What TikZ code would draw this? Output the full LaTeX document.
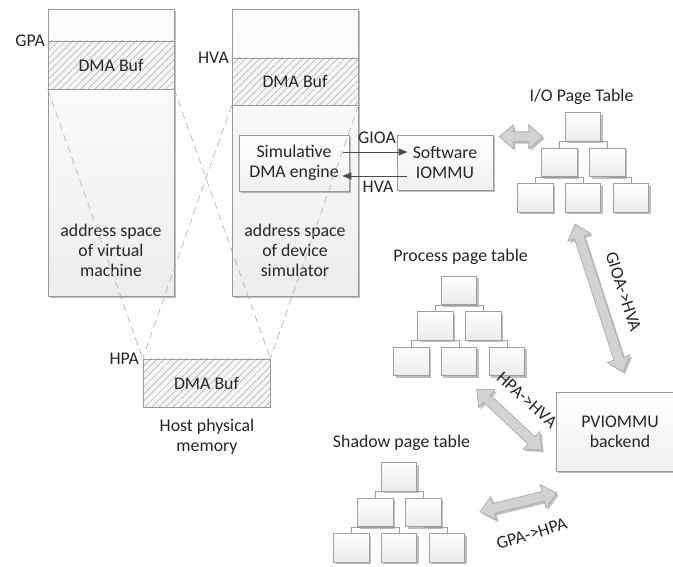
\documentclass[tikz,border=0pt]{standalone}
\usepackage{fontspec}
\setmainfont{Carlito}
\usetikzlibrary{patterns.meta,shadows,calc,arrows.meta}

\tikzset{
  txt/.style={font=\fontsize{17.8}{20}\selectfont, text=black!85, align=center, inner sep=1pt},
  shad/.style={drop shadow={shadow xshift=2pt,shadow yshift=-2pt,opacity=0.25,fill=black}},
  colbox/.style={draw=gray!80, line width=0.8pt, top color=white, bottom color=gray!14, shad},
  hatchbox/.style={draw=gray!80, line width=0.8pt, preaction={fill=gray!6},
    pattern={Lines[angle=45,distance=5pt,line width=0.5pt]}, pattern color=gray!70,
    txt, inner sep=0pt},
  box/.style={draw=gray!80, line width=0.8pt, top color=white, bottom color=gray!12, shad, txt},
  tbox/.style={draw=gray!75, line width=0.7pt, top color=white, bottom color=gray!16, shad,
    minimum width=35.5pt, minimum height=28.5pt, inner sep=0pt},
  tline/.style={draw=gray!75, line width=0.7pt},
  thinarr/.style={draw=black!70, line width=0.8pt, -{Triangle[length=9pt,width=7pt]}},
  dashln/.style={draw=gray!65, line width=0.6pt, dash pattern=on 7pt off 5pt},
  fatarr/.style={draw=gray!65, line width=0.7pt, fill=gray!35, line join=miter, shad}
}

\newcommand\fatarrow[2]{%
  \path let \p1=($(#2)-(#1)$) in \pgfextra{%
    \pgfmathsetmacro\fatlen{veclen(\x1,\y1)}%
    \pgfmathsetmacro\fatang{atan2(\y1,\x1)}%
    \global\let\fatlen\fatlen \global\let\fatang\fatang};
  \begin{scope}[shift={(#1)},rotate=\fatang]
    \draw[fatarr] (0,0) -- (14,12) -- (14,5) -- ({\fatlen-14},5) -- ({\fatlen-14},12)
      -- (\fatlen,0) -- ({\fatlen-14},-12) -- ({\fatlen-14},-5) -- (14,-5) -- (14,-12) -- cycle;
  \end{scope}}

\newcommand\ptree[3]{%
  \node[tbox] (#1t) at (#2,#3) {};
  \node[tbox] (#1l) at ({#2-23.5},{#3-35.5}) {};
  \node[tbox] (#1r) at ({#2+24.5},{#3-35.5}) {};
  \node[tbox] (#1a) at ({#2-47.5},{#3-71}) {};
  \node[tbox] (#1b) at (#2,{#3-71}) {};
  \node[tbox] (#1c) at ({#2+48},{#3-71}) {};
  \draw[tline] (#1l.north) |- (#1t.south) -| (#1r.north);
  \draw[tline] (#1a.north) |- (#1l.south) -| (#1b.north);
  \draw[tline] (#1r.south) -| (#1c.north);
}

\begin{document}
\begin{tikzpicture}[x=1pt,y=1pt]
\useasboundingbox (0,0) rectangle (673,566);
\clip (0,0) rectangle (673,566);
\fill[white] (0,0) rectangle (673,566);

% address space columns
\node[colbox, minimum width=126pt, minimum height=287pt, inner sep=0pt] (vm) at (111,413.5) {};
\node[colbox, minimum width=126pt, minimum height=287pt, inner sep=0pt] (ds) at (295,413.5) {};
\node[hatchbox, minimum width=126pt, minimum height=48pt] (vmbuf) at (111,501) {DMA Buf};
\node[hatchbox, minimum width=126pt, minimum height=47pt] (dsbuf) at (295,484.5) {DMA Buf};
\node[txt] (vmtxt) at (111,316) {address space\\of virtual\\machine};
\node[txt] (dstxt) at (295,316) {address space\\of device\\simulator};
\node[txt, anchor=east] (gpa) at (46,525) {GPA};
\node[txt, anchor=east] (hva) at (230,508) {HVA};

% simulative DMA engine and software IOMMU
\node[box, minimum width=110pt, minimum height=56pt, inner sep=0pt] (sim) at (294,403) {Simulative\\DMA engine};
\node[box, minimum width=96pt, minimum height=55pt, inner sep=0pt] (iommu) at (445,403.5) {Software\\IOMMU};
\coordinate (g1) at ($(sim.east)+(-6,11)$);
\coordinate (g2) at ($(iommu.west)+(11,10.5)$);
\coordinate (h1) at ($(iommu.west)+(10,-13.5)$);
\coordinate (h2) at ($(sim.east)+(-7,-13)$);
\draw[thinarr] (g1) -- (g2);
\draw[thinarr] (h1) -- (h2);
\node[txt] (gioalbl) at (377,428) {GIOA};
\node[txt] (hvalbl) at (378,379) {HVA};

% host physical memory
\node[hatchbox, minimum width=127pt, minimum height=48pt] (hbuf) at (206.5,183) {DMA Buf};
\node[txt, anchor=east] (hpa) at (140,207) {HPA};
\node[txt] (hostlbl) at (207,129) {Host physical\\memory};

% mapping lines
\draw[dashln] (vmbuf.south west) -- (hbuf.north west);
\draw[dashln] (vmbuf.south east) -- (hbuf.north east);
\draw[dashln] (dsbuf.south west) -- (hbuf.north west);
\draw[dashln] (dsbuf.south east) -- (hbuf.north east);

% page tables
\node[txt] (iolbl) at (581.5,469) {I/O Page Table};
\ptree{io}{583}{439}
\node[txt] (pplbl) at (460.5,309) {Process page table};
\ptree{pp}{459}{275.7}
\node[txt] (splbl) at (401.5,123) {Shadow page table};
\ptree{sp}{399}{89}

% PVIOMMU backend
\node[box, minimum width=128pt, minimum height=79pt, inner sep=0pt] (pv) at (620,134.5) {PVIOMMU\\backend};

% fat arrows
\coordinate (fa1) at (499.3,429.3); \coordinate (fa2) at (542.7,429.3);
\coordinate (fb1) at (575,342);     \coordinate (fb2) at (623,194);
\coordinate (fc1) at (476.7,177);   \coordinate (fc2) at (541.7,116);
\coordinate (fd1) at (480,54.3);    \coordinate (fd2) at (556.7,73);
\fatarrow{fa1}{fa2}
\fatarrow{fb1}{fb2}
\fatarrow{fc1}{fc2}
\fatarrow{fd1}{fd2}
\node[txt, rotate=-72] (l1) at (623.5,274.3) {GIOA->HVA};
\node[txt, rotate=-42] (l2) at (527,166) {HPA->HVA};
\node[txt, rotate=17] (l3) at (531.7,32.3) {GPA->HPA};
\end{tikzpicture}
\end{document}
